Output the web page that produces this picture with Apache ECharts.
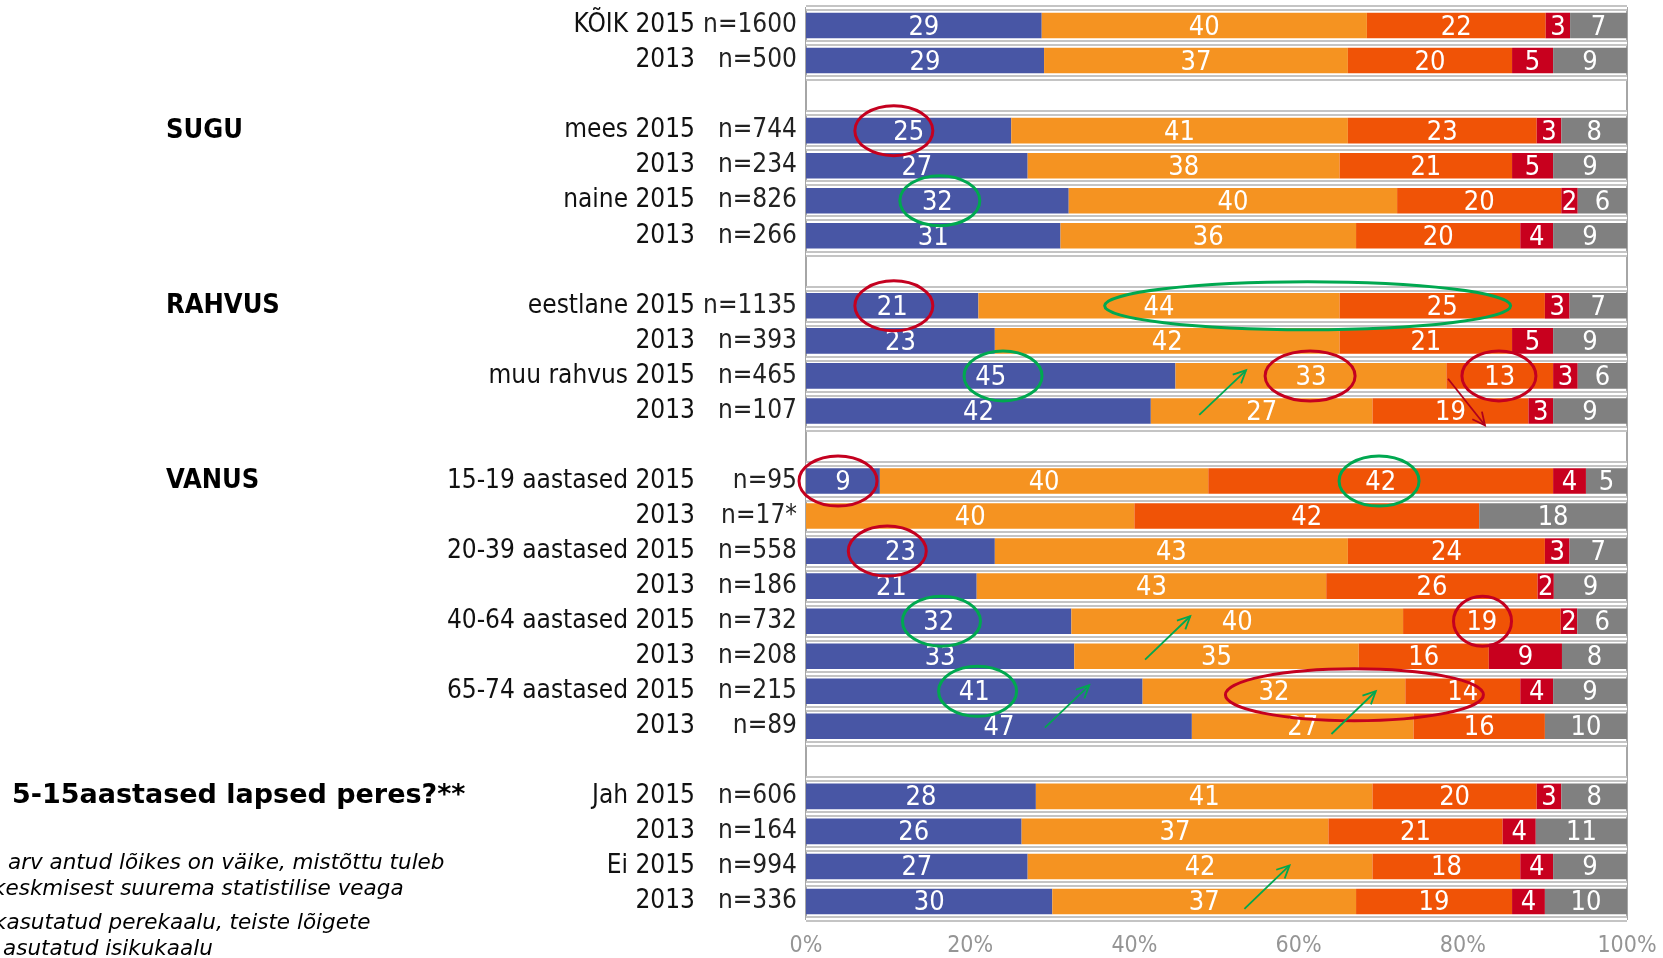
<!DOCTYPE html>
<html>
<head>
<meta charset="utf-8">
<title>chart</title>
<script src="https://cdn.jsdelivr.net/npm/echarts@6/dist/echarts.min.js"></script>
<style>
  html, body { margin: 0; padding: 0; background: #fff; }
  #chart { width: 1663px; height: 958px; }
</style>
</head>
<body>
<div id="chart"></div>
<script>
// rows, top to bottom ('' = spacer row)
const rowNames = ['KÕIK 2015', '2013', '', 'mees 2015', '2013', 'naine 2015', '2013', '',
  'eestlane 2015', '2013', 'muu rahvus 2015', '2013', '',
  '15-19 aastased 2015', '2013', '20-39 aastased 2015', '2013', '40-64 aastased 2015', '2013',
  '65-74 aastased 2015', '2013', '', 'Jah 2015', '2013', 'Ei 2015', '2013']
const rowCounts = ['n=1600', 'n=500', '', 'n=744', 'n=234', 'n=826', 'n=266', '',
  'n=1135', 'n=393', 'n=465', 'n=107', '',
  'n=95', 'n=17*', 'n=558', 'n=186', 'n=732', 'n=208', 'n=215', 'n=89', '',
  'n=606', 'n=164', 'n=994', 'n=336']

const blue = [29, 29, null, 25, 27, 32, 31, null, 21, 23, 45, 42, null,
  9, 0, 23, 21, 32, 33, 41, 47, null, 28, 26, 27, 30]
const orange = [40, 37, null, 41, 38, 40, 36, null, 44, 42, 33, 27, null,
  40, 40, 43, 43, 40, 35, 32, 27, null, 41, 37, 42, 37]
const darkOrange = [22, 20, null, 23, 21, 20, 20, null, 25, 21, 13, 19, null,
  42, 42, 24, 26, 19, 16, 14, 16, null, 20, 21, 18, 19]
const red = [3, 5, null, 3, 5, 2, 4, null, 3, 5, 3, 3, null,
  4, 0, 3, 2, 2, 9, 4, 0, null, 3, 4, 4, 4]
const gray = [7, 9, null, 8, 9, 6, 9, null, 7, 9, 6, 9, null,
  5, 18, 7, 9, 6, 8, 9, 10, null, 8, 11, 9, 10]

const xTicks = [0, 20, 40, 60, 80, 100]

const groupLabels = [
  { text: 'SUGU', row: 3 },
  { text: 'RAHVUS', row: 8 },
  { text: 'VANUS', row: 13 }
]
const footnotes = [
  'arv antud lõikes on väike, mistõttu tuleb',
  'keskmisest suurema statistilise veaga',
  'kasutatud perekaalu, teiste lõigete',
  'asutatud isikukaalu'
]

const colors = ['#4856A5', '#F59321', '#F05306', '#C8001E', '#808080']
const font = '"DejaVu Sans Condensed", "DejaVu Sans", sans-serif'

const seriesValues = [blue, orange, darkOrange, red, gray]
const totals = rowNames.map((_, i) => seriesValues.reduce((s, arr) => s + (arr[i] || 0), 0))

const chart = echarts.init(document.getElementById('chart'))

const categoryAxis = {
  type: 'category',
  inverse: true,
  data: rowNames.map((_, i) => String(i)),
  axisLine: { show: false },
  axisTick: { show: false }
}

chart.setOption({
  animation: false,
  grid: {
    left: 806,
    right: 36,
    top: 8,
    bottom: 39,
    show: true,
    borderColor: '#a6a6a6',
    borderWidth: 2
  },
  xAxis: {
    type: 'value',
    min: xTicks[0],
    max: xTicks[xTicks.length - 1],
    interval: xTicks[1] - xTicks[0],
    axisLine: { show: false },
    axisTick: { show: false },
    splitLine: { show: false },
    axisLabel: {
      formatter: '{value}%',
      color: '#959595',
      fontSize: 23,
      fontFamily: font,
      margin: 16
    }
  },
  yAxis: [
    Object.assign({}, categoryAxis, {
      splitLine: { show: true, lineStyle: { color: '#c4c4c4', width: 6 } },
      axisLabel: {
        margin: 9,
        formatter: (v, i) => rowNames[i] ? '{a|' + rowNames[i] + '}{b|' + rowCounts[i] + '}' : '',
        rich: {
          a: { width: 420, align: 'right', fontSize: 26, fontFamily: font, color: '#111' },
          b: { width: 102, align: 'right', fontSize: 26, fontFamily: font, color: '#222' }
        }
      }
    }),
    Object.assign({}, categoryAxis, {
      axisLabel: { show: false },
      splitLine: { show: true, lineStyle: { color: '#ffffff', width: 2 } }
    })
  ],
  series: seriesValues.map((arr, k) => ({
    type: 'bar',
    stack: 'total',
    barWidth: '73%',
    itemStyle: { color: colors[k] },
    label: {
      show: true,
      position: 'inside',
      color: '#fff',
      fontSize: 27,
      fontFamily: font,
      textBorderWidth: 0,
      offset: [0, 2],
      formatter: p => (p.data && p.data.raw) ? String(p.data.raw) : ''
    },
    data: arr.map((v, i) => v == null ? null : { value: v / totals[i] * 100, raw: v })
  }))
})

// hand-drawn style annotations: [row, x %, rx, ry]
const redRings = [[3, 10.7, 39, 25], [8, 10.7, 39, 25], [10, 61.4, 45, 25], [10, 84.4, 37, 25],
  [13, 3.9, 39, 25], [15, 9.9, 39, 25], [17, 82.4, 29, 25], [19.1, 66.8, 129, 26]]
const greenRings = [[5, 16.3, 40, 25], [8, 61.1, 203, 24], [10, 24.0, 39, 25],
  [13, 69.8, 40, 25], [17, 16.5, 39, 25], [19, 20.9, 39, 25]]
// [fromRow, fromX, toRow, toX]
const greenArrows = [[11.11, 47.9, 9.84, 53.6], [18.1, 41.3, 16.86, 46.8], [20.04, 29.1, 18.83, 34.5],
  [20.22, 64.0, 19.0, 69.4], [25.21, 53.4, 23.97, 58.9]]
const redArrows = [[10.08, 78.2, 11.41, 82.7]]

const y0 = chart.convertToPixel({ yAxisIndex: 0 }, 0)
const y1 = chart.convertToPixel({ yAxisIndex: 0 }, 1)
const rowY = r => y0 + r * (y1 - y0)
const px = p => chart.convertToPixel({ xAxisIndex: 0 }, p)

const graphics = []
const ring = (c, color) => graphics.push({
  type: 'ellipse',
  z: 10,
  shape: { cx: px(c[1]), cy: rowY(c[0]), rx: c[2], ry: c[3] },
  style: { fill: 'none', stroke: color, lineWidth: 3 }
})
redRings.forEach(c => ring(c, '#C4001F'))
greenRings.forEach(c => ring(c, '#00A850'))

const arrow = (a, color) => {
  const xa = px(a[1]), ya = rowY(a[0]), xb = px(a[3]), yb = rowY(a[2])
  const ang = Math.atan2(yb - ya, xb - xa)
  const h = 14
  graphics.push({
    type: 'polyline', z: 10,
    shape: { points: [[xa, ya], [xb, yb]] },
    style: { stroke: color, lineWidth: 1.8, fill: 'none' }
  })
  graphics.push({
    type: 'polyline', z: 10,
    shape: {
      points: [
        [xb - h * Math.cos(ang - 0.45), yb - h * Math.sin(ang - 0.45)],
        [xb, yb],
        [xb - h * Math.cos(ang + 0.45), yb - h * Math.sin(ang + 0.45)]
      ]
    },
    style: { stroke: color, lineWidth: 1.8, fill: 'none' }
  })
}
greenArrows.forEach(a => arrow(a, '#00A850'))
redArrows.forEach(a => arrow(a, '#B0001C'))

groupLabels.forEach(g => graphics.push({
  type: 'text',
  x: 166,
  y: rowY(g.row),
  style: { text: g.text, font: 'bold 27px ' + font, fill: '#000', verticalAlign: 'middle' }
}))
graphics.push({
  type: 'text',
  x: 12,
  y: rowY(22),
  style: { text: '5-15aastased lapsed peres?**', font: 'bold 27px "DejaVu Sans", sans-serif', fill: '#000', verticalAlign: 'middle' }
})

const footX = [8, -7, -6, 3]
const footY = [863, 889, 923, 949]
footnotes.forEach((t, i) => graphics.push({
  type: 'text',
  x: footX[i],
  y: footY[i],
  style: { text: t, font: 'italic 21.5px "DejaVu Sans", sans-serif', fill: '#000', verticalAlign: 'middle' }
}))

chart.setOption({ graphic: graphics })
</script>
</body>
</html>
